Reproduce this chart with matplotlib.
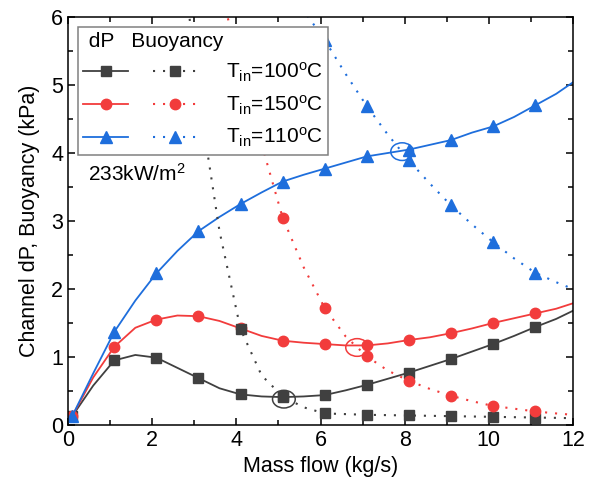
import numpy as np
import matplotlib
matplotlib.use('Agg')
import matplotlib.pyplot as plt
from matplotlib.lines import Line2D
from matplotlib.patches import Ellipse
from matplotlib.legend_handler import HandlerTuple

plt.rcParams['font.family'] = ['Liberation Sans', 'DejaVu Sans']
plt.rcParams['mathtext.fontset'] = 'custom'
plt.rcParams['mathtext.rm'] = 'Liberation Sans'
plt.rcParams['mathtext.it'] = 'Liberation Sans:italic'
plt.rcParams['mathtext.bf'] = 'Liberation Sans:bold'

# channel pressure drop (solid lines)
x_dp = [0.1, 0.6, 1.1, 1.6, 2.1, 2.6, 3.1, 3.6, 4.1, 4.6, 5.1, 5.6, 6.1,
        6.6, 7.1, 7.6, 8.1, 8.6, 9.1, 9.6, 10.1, 10.6, 11.1, 11.6, 12.0]
dp_100 = [0.13, 0.58, 0.95, 1.03, 0.99, 0.84, 0.69, 0.54, 0.45, 0.42, 0.41, 0.42, 0.44,
          0.51, 0.59, 0.68, 0.77, 0.87, 0.97, 1.08, 1.19, 1.31, 1.44, 1.56, 1.68]
dp_150 = [0.13, 0.70, 1.15, 1.43, 1.55, 1.61, 1.60, 1.53, 1.42, 1.31, 1.24, 1.21, 1.19,
          1.17, 1.17, 1.20, 1.25, 1.29, 1.35, 1.42, 1.50, 1.57, 1.64, 1.71, 1.79]
dp_110 = [0.13, 0.76, 1.37, 1.83, 2.23, 2.56, 2.85, 3.06, 3.25, 3.42, 3.58, 3.68, 3.77,
          3.86, 3.95, 4.00, 4.05, 4.12, 4.19, 4.30, 4.39, 4.53, 4.70, 4.87, 5.04]

# buoyancy (dotted lines)
x_b100 = [2.1, 2.6, 3.1, 3.6, 4.1, 4.6, 5.1, 5.6, 6.1, 6.6, 7.1, 7.6, 8.1,
          8.6, 9.1, 9.6, 10.1, 10.6, 11.1, 11.6, 12.0]
b_100 = [11.0, 7.5, 4.87, 2.85, 1.41, 0.73, 0.42, 0.26, 0.17, 0.16, 0.15, 0.145, 0.14,
         0.135, 0.13, 0.125, 0.12, 0.115, 0.11, 0.105, 0.10]
x_b150 = [3.1, 3.6, 4.1, 4.6, 5.1, 5.6, 6.1, 6.6, 7.1, 7.6, 8.1, 8.6, 9.1,
          9.6, 10.1, 10.6, 11.1, 11.6, 12.0]
b_150 = [7.6, 6.45, 5.27, 4.13, 3.05, 2.32, 1.72, 1.30, 1.01, 0.80, 0.65, 0.53, 0.43,
         0.35, 0.28, 0.24, 0.20, 0.17, 0.15]
x_b110 = [5.1, 5.6, 6.1, 6.6, 7.1, 7.6, 8.1, 8.6, 9.1, 9.6, 10.1, 10.6, 11.1, 11.6, 12.0]
b_110 = [6.55, 6.1, 5.66, 5.16, 4.69, 4.27, 3.89, 3.55, 3.23, 2.95, 2.69, 2.45, 2.24, 2.10, 2.00]

labels = [r'T$_{\mathrm{in}}$=100$^{\mathrm{o}}$C',
          r'T$_{\mathrm{in}}$=150$^{\mathrm{o}}$C',
          r'T$_{\mathrm{in}}$=110$^{\mathrm{o}}$C']
colors = ['#404040', '#f23c3c', '#1e6edc']
markers = ['s', 'o', '^']
msizes = [6.5, 7.5, 8.5]

# intersection marks (x, y)
cross_pts = [(5.13, 0.38), (6.87, 1.14), (7.94, 4.02)]

dot = (0, (1, 3.8))
fs = 15.5


def mark_idx(x):
    # markers only at the x.1 measurement points
    x = np.asarray(x)
    return list(np.isclose((x - 0.1) % 1.0, 0) | np.isclose((x - 0.1) % 1.0, 1.0))


fig = plt.figure(figsize=(5.95, 4.83), dpi=100)
ax = fig.add_axes([68 / 595, 58 / 483, 505 / 595, 408 / 483])

for y, c, m, ms in zip([dp_100, dp_150, dp_110], colors, markers, msizes):
    ax.plot(x_dp, y, color=c, lw=1.3, marker=m, ms=ms, markevery=mark_idx(x_dp))
for xx, y, c, m, ms in zip([x_b100, x_b150, x_b110], [b_100, b_150, b_110], colors, markers, msizes):
    ax.plot(xx, y, color=c, lw=1.5, ls=dot, marker=m, ms=ms, markevery=mark_idx(xx))

for (cx, cy), c in zip(cross_pts, colors):
    ax.add_patch(Ellipse((cx, cy), 0.54, 0.26, fill=False, ec=c, lw=1.1))

ax.set_xlim(0, 12)
ax.set_ylim(0, 6)
ax.set_xticks(range(0, 13, 2))
ax.set_xticks(range(1, 12, 2), minor=True)
ax.set_yticks(range(0, 7))
ax.set_yticks(np.arange(0.5, 6, 1.0), minor=True)
ax.tick_params(which='both', direction='in', top=True, right=True, labelsize=fs, width=1.1)
ax.tick_params(which='major', length=5)
ax.tick_params(which='minor', length=3.5)
for s in ax.spines.values():
    s.set_linewidth(1.1)

ax.set_xlabel('Mass flow (kg/s)', fontsize=fs, labelpad=4)
ax.set_ylabel('Channel dP, Buoyancy (kPa)', fontsize=fs, labelpad=8)

ax.text(0.48, 3.69, '233kW/m$^2$', fontsize=15, va='center', ha='left')

handles = []
for c, m, ms in zip(colors, markers, msizes):
    solid = Line2D([], [], color=c, lw=1.3, marker=m, ms=ms)
    dotted = Line2D([], [], color=c, lw=1.5, ls=dot, marker=m, ms=ms)
    handles.append((solid, dotted))
leg = ax.legend(handles, labels, handler_map={tuple: HandlerTuple(ndivide=None, pad=1.2)},
                loc='upper left', bbox_to_anchor=(0.02, 0.975), borderaxespad=0,
                fontsize=15, title=' dP   Buoyancy', title_fontsize=15,
                alignment='left', handlelength=5.5, handletextpad=1.35, numpoints=1,
                labelspacing=0.45, borderpad=0.25, fancybox=False, framealpha=1,
                edgecolor='#808080')
leg.get_frame().set_linewidth(1.1)

fig.savefig('out.png', dpi=100)
